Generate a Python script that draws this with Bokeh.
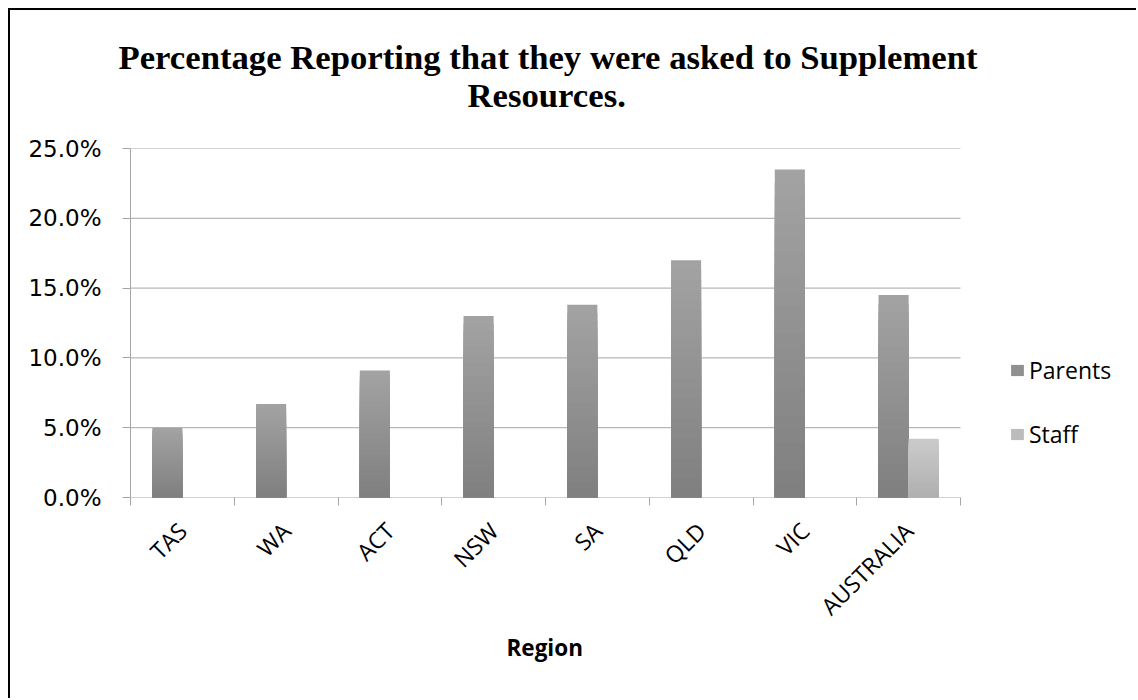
import math
from bokeh.plotting import figure
from bokeh.models import (ColumnDataSource, FixedTicker, NumeralTickFormatter, Range1d,
                          Legend, LegendItem, Title)
from bokeh.embed import file_html
from bokeh.resources import INLINE

# ---- data ----
regions = ["TAS", "WA", "ACT", "NSW", "SA", "QLD", "VIC", "AUSTRALIA"]
parents = [0.050, 0.067, 0.091, 0.130, 0.138, 0.170, 0.235, 0.145]
staff = [None, None, None, None, None, None, None, 0.042]
y_ticks = [0.0, 0.05, 0.10, 0.15, 0.20, 0.25]
series_names = ["Parents", "Staff"]
title_lines = ["Percentage Reporting that they were asked to Supplement", "Resources."]
x_title = "Region"

# ---- style / layout ----
W, H = 1136, 698
PLOT_L, PLOT_R, PLOT_T, PLOT_H = 130, 960, 148, 349
FRAME_W = W - PLOT_L
BAR_W = 0.29
OFFSETS = [-0.145, 0.145]
SHADES = [((0x7f, 0x7f, 0x7f), (0xa3, 0xa3, 0xa3)),   # (bottom, top)
          ((0xaf, 0xaf, 0xaf), (0xcb, 0xcb, 0xcb))]
N_LAYERS = 24
GRID = "#a6a6a6"
n = len(regions)
x_end = n * FRAME_W / (PLOT_R - PLOT_L)

p = figure(width=W, height=H, output_backend="svg", toolbar_location=None,
           title=None,
           x_range=Range1d(0, x_end), y_range=Range1d(0, 0.25),
           min_border_left=PLOT_L, min_border_right=0, min_border_top=PLOT_T,
           min_border_bottom=H - PLOT_T - PLOT_H, background_fill_color="white",
           border_fill_color=None, outline_line_color=None)

# page border (left and top edges visible in the reference)
p.styles = {"box-shadow": "inset 8px 8px 0 0 white, inset 10px 10px 0 0 black"}

t2 = Title(text=title_lines[1], align="left", offset=337, text_font="Liberation Serif",
           text_font_style="bold", text_font_size="34.7px", text_color="black",
           standoff=67)
t1 = Title(text=title_lines[0], align="left", offset=-12, text_font="Liberation Serif",
           text_font_style="bold", text_font_size="34.7px", text_color="black",
           standoff=-72)
p.add_layout(t2, "above")
p.add_layout(t1, "above")

tb = Title(text=x_title, align="left", offset=376, text_font="Open Sans",
           text_font_style="bold", text_font_size="22.5px", text_color="black",
           standoff=-11)
p.add_layout(tb, "below")

# horizontal gridlines across the category span only
p.segment(x0=0, x1=n, y0=y_ticks, y1=y_ticks, line_color=GRID, line_width=1)


def hex_of(c):
    return "#%02x%02x%02x" % tuple(int(round(v)) for v in c)


renderers = []
for s, vals in enumerate([parents, staff]):
    dark, light = SHADES[s]
    xs, tops, cols = [], [], []
    for k in range(N_LAYERS):
        f = 1 - k / N_LAYERS
        t = f - 0.5 / N_LAYERS
        col = hex_of([d + (l - d) * t for d, l in zip(dark, light)])
        for i, v in enumerate(vals):
            xs.append(i + 0.5 + OFFSETS[s])
            tops.append(float("nan") if v is None else v * f)
            cols.append(col)
    src = ColumnDataSource(dict(x=xs, top=tops, color=cols))
    r = p.vbar(x="x", top="top", bottom=0, width=BAR_W, source=src,
               fill_color="color", line_color=None)
    renderers.append(r)

# axes
p.yaxis.ticker = FixedTicker(ticks=y_ticks)
p.yaxis.formatter = NumeralTickFormatter(format="0.0%")
p.yaxis.major_label_text_font = "DejaVu Sans"
p.yaxis.major_label_text_font_size = "23px"
p.yaxis.major_label_text_color = "black"
p.yaxis.major_tick_out = 8
p.yaxis.major_tick_in = 0
p.yaxis.minor_tick_line_color = None
p.yaxis.major_label_standoff = 21
p.yaxis.axis_line_color = GRID
p.yaxis.major_tick_line_color = GRID

centers = [i + 0.5 for i in range(n)]
p.xaxis.ticker = FixedTicker(ticks=centers, minor_ticks=list(range(n + 1)))
p.xaxis.major_label_overrides = {c: r for c, r in zip(centers, regions)}
p.xaxis.major_label_orientation = math.pi / 4
p.xaxis.major_label_text_font = "Open Sans"
p.xaxis.major_label_text_font_size = "23px"
p.xaxis.major_label_text_color = "black"
p.xaxis.major_tick_line_color = None
p.xaxis.major_tick_out = 0
p.xaxis.major_tick_in = 0
p.xaxis.minor_tick_out = 8
p.xaxis.minor_tick_in = 0
p.xaxis.minor_tick_line_color = GRID
p.xaxis.axis_line_color = None
p.xaxis.major_label_standoff = 21

p.xgrid.grid_line_color = None
p.ygrid.grid_line_color = None

mid = (N_LAYERS // 2) * n
legend = Legend(items=[
    LegendItem(label=series_names[0], renderers=[renderers[0]], index=mid + 0),
    LegendItem(label=series_names[1], renderers=[renderers[1]], index=mid + 7),
], location=(879, 47), orientation="vertical", padding=0, margin=0,
    border_line_color=None, background_fill_alpha=0,
    glyph_width=16, glyph_height=14, label_standoff=4, spacing=32,
    label_text_font="Open Sans", label_text_font_size="23px",
    label_text_color="black")
p.add_layout(legend, "center")

open("out.html", "w").write(file_html(p, INLINE))
